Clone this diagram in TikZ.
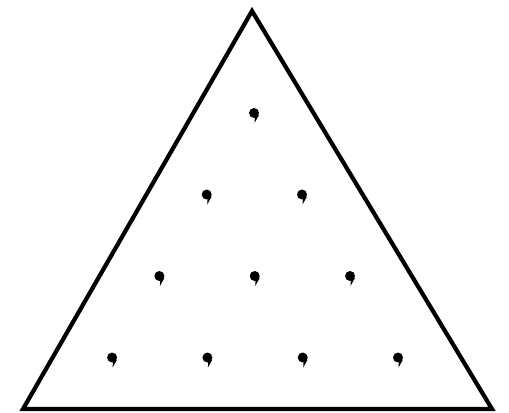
\documentclass[tikz,border=0pt]{standalone}
\usetikzlibrary{positioning}

\begin{document}
\begin{tikzpicture}[x=0.02cm,y=-0.02cm]
  \useasboundingbox (0,0) rectangle (509,412);
  \draw[line width=2.4pt,line join=miter] (252,11) -- (492,409) -- (23,409) -- cycle;
  \foreach \r in {0,...,3}
    \foreach \k in {0,...,\r} {
      \fill ({254-47.3*\r+95.3*\k},{113+81.5*\r}) circle (5);
      \fill ({254-47.3*\r+95.3*\k+1},{113+81.5*\r+2}) -- ++(4,0) -- ++(-4.5,8) -- cycle;
    }
\end{tikzpicture}
\end{document}
